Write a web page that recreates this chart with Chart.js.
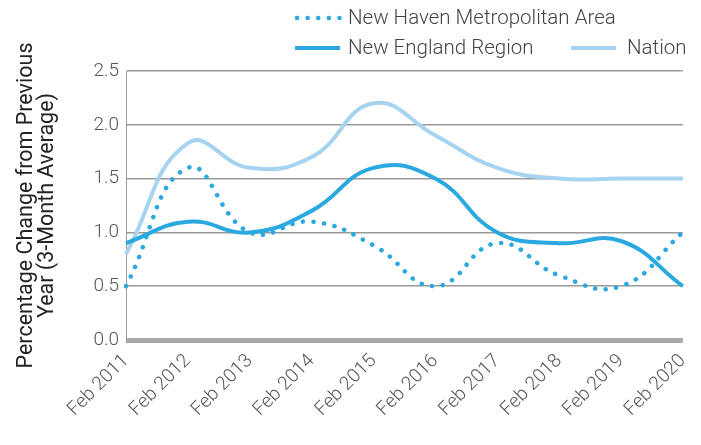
<!DOCTYPE html>
<html>
<head>
<meta charset="utf-8">
<script src="https://cdn.jsdelivr.net/npm/chart.js@4/dist/chart.umd.min.js"></script>
<style>
  html, body { margin: 0; padding: 0; background: #fff; }
  #wrap { width: 701px; height: 445px; position: relative; }
</style>
</head>
<body>
<div id="wrap"><canvas id="c" width="701" height="445"></canvas></div>
<script>
// Year-over-year employment change, 3-month average
const categories = ['Feb 2011', 'Feb 2012', 'Feb 2013', 'Feb 2014', 'Feb 2015',
                    'Feb 2016', 'Feb 2017', 'Feb 2018', 'Feb 2019', 'Feb 2020'];
const newHaven   = [0.5, 1.6, 1.0, 1.1, 0.88, 0.5, 0.9, 0.6, 0.5, 1.0];
const newEngland = [0.9, 1.1, 1.0, 1.2, 1.6, 1.5, 1.0, 0.9, 0.92, 0.5];
const nation     = [0.8, 1.83, 1.6, 1.7, 2.2, 1.9, 1.6, 1.5, 1.5, 1.5];
const yTicks     = [0, 0.5, 1.0, 1.5, 2.0, 2.5];

const BLUE = '#2aa8e0';
const LIGHT = '#a6d3f0';
const FONT = 'Roboto, "Liberation Sans", sans-serif';

// Two-row legend drawn at the top right
const legendPlugin = {
  id: 'topLegend',
  afterDraw(chart) {
    const ctx = chart.ctx;
    const ds = chart.data.datasets;
    const spots = [
      { x: 295, y: 18 },
      { x: 295, y: 48 },
      { x: 571, y: 48 }
    ];
    ctx.save();
    ds.forEach((d, i) => {
      const p = spots[i];
      ctx.beginPath();
      ctx.strokeStyle = d.borderColor;
      ctx.lineWidth = d.borderWidth;
      ctx.lineCap = d.borderCapStyle || 'butt';
      ctx.setLineDash(d.borderDash || []);
      ctx.moveTo(p.x + (d.borderDash ? 2 : 0), p.y);
      ctx.lineTo(p.x + 45, p.y);
      ctx.stroke();
      ctx.setLineDash([]);
      ctx.fillStyle = '#444';
      ctx.font = '300 20.5px ' + FONT;
      ctx.textBaseline = 'middle';
      ctx.textAlign = 'left';
      ctx.fillText(d.label, p.x + (i === 2 ? 56 : 53), p.y + 1);
    });
    ctx.restore();
  }
};

new Chart(document.getElementById('c'), {
  type: 'line',
  data: {
    labels: categories,
    datasets: [
      {
        label: 'New Haven Metropolitan Area',
        data: newHaven,
        borderColor: BLUE,
        borderWidth: 4.5,
        borderDash: [0.1, 10.5],
        borderCapStyle: 'round',
        pointRadius: 0,
        tension: 0.45,
        fill: false
      },
      {
        label: 'New England Region',
        data: newEngland,
        borderColor: BLUE,
        borderWidth: 4,
        pointRadius: 0,
        tension: 0.45,
        fill: false
      },
      {
        label: 'Nation',
        data: nation,
        borderColor: LIGHT,
        borderWidth: 4,
        pointRadius: 0,
        tension: 0.45,
        fill: false
      }
    ]
  },
  options: {
    responsive: false,
    animation: false,
    events: [],
    layout: { padding: { top: 71, right: 14, left: 0, bottom: 0 } },
    plugins: {
      legend: { display: false },
      tooltip: { enabled: false }
    },
    scales: {
      x: {
        offset: false,
        grid: { display: false },
        border: { display: false },
        ticks: {
          color: '#555',
          font: { family: FONT, size: 19, weight: 300 },
          maxRotation: 45,
          minRotation: 45,
          padding: 2,
          autoSkip: false
        },
        afterFit(scale) { scale.height = 105; }
      },
      y: {
        min: 0,
        max: 2.5,
        afterBuildTicks(scale) { scale.ticks = yTicks.map(v => ({ value: v })); },
        grid: {
          drawTicks: false,
          color: ctx => ctx.tick && ctx.tick.value === 0 ? '#a9a9a9' : '#9a9a9a',
          lineWidth: ctx => ctx.tick && ctx.tick.value === 0 ? 5 : 1.5
        },
        border: { display: true, color: '#9a9a9a', width: 1 },
        ticks: {
          color: '#555',
          font: { family: FONT, size: 19, weight: 300 },
          padding: 7,
          callback: v => Number(v).toFixed(1)
        },
        title: {
          display: true,
          text: ['Percentage Change from Previous', 'Year (3-Month Average)'],
          color: '#222',
          font: { family: FONT, size: 21.5, weight: 400, lineHeight: 0.98 },
          padding: { top: 16, bottom: 0 }
        },
        afterFit(scale) { scale.width = 126; }
      }
    }
  },
  plugins: [legendPlugin]
});
</script>
</body>
</html>
